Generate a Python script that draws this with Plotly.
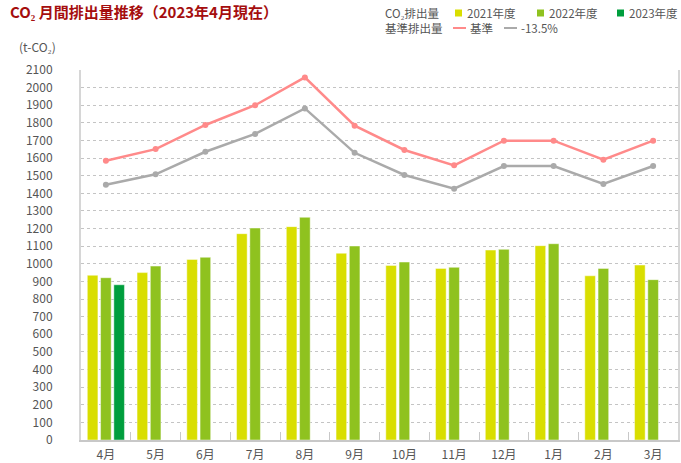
import plotly.graph_objects as go

# Months (fiscal year, April start)
months = ['4月', '5月', '6月', '7月', '8月', '9月', '10月', '11月', '12月', '1月', '2月', '3月']

# CO2 emissions per fiscal year (t-CO2)
fy2021 = [935, 950, 1025, 1171, 1211, 1060, 991, 974, 1078, 1103, 932, 993]
fy2022 = [921, 987, 1037, 1203, 1264, 1101, 1010, 980, 1082, 1114, 974, 910]
fy2023 = [881]

# Reference emissions and the -13.5% target line
baseline = [1585, 1651, 1788, 1900, 2058, 1784, 1646, 1559, 1699, 1699, 1591, 1699]
target = [1449, 1508, 1636, 1737, 1882, 1630, 1504, 1426, 1555, 1555, 1453, 1555]

colors = {
    'fy2021': '#d9de00',
    'fy2022': '#8fc21f',
    'fy2023': '#009e3d',
    'baseline': '#ff8a8a',
    'target': '#aaaaaa',
    'title': '#a50e0e',
    'text': '#555555',
}

font_family = 'Noto Sans CJK JP'

# plot area in pixels (used to place the hand-made legend)
W, H = 681, 463
L, R, T, B = 81, 3, 70, 23


def px_x(px):
    return (px - L) / (W - L - R)


def px_y(py):
    return (H - B - py) / (H - T - B)


fig = go.Figure()

# Bars
bar_series = [('2021年度', fy2021, 'fy2021'),
              ('2022年度', fy2022, 'fy2022'),
              ('2023年度', fy2023, 'fy2023')]
for name, values, key in bar_series:
    fig.add_trace(go.Bar(
        x=months[:len(values)],
        y=values,
        name=name,
        marker={'color': colors[key], 'line': {'color': 'rgba(255,255,255,0.45)', 'width': 1}},
    ))

# Lines
line_series = [('基準', baseline, 'baseline'), ('-13.5%', target, 'target')]
for name, values, key in line_series:
    fig.add_trace(go.Scatter(
        x=months,
        y=values,
        name=name,
        mode='lines+markers',
        line={'color': colors[key], 'width': 2.5},
        marker={'color': colors[key], 'size': 6},
    ))

fig.update_layout(
    width=W,
    height=H,
    margin={'l': L, 'r': R, 't': T, 'b': B, 'autoexpand': False},
    paper_bgcolor='white',
    plot_bgcolor='white',
    showlegend=False,
    barmode='group',
    bargap=0.2,
    bargroupgap=0.2,
    font={'family': font_family, 'size': 12, 'color': colors['text']},
    title={
        'text': '<b>CO₂ 月間排出量推移（2023年4月現在）</b>',
        'x': 10 / W,
        'xanchor': 'left',
        'y': 1 - 13 / H,
        'yanchor': 'middle',
        'font': {'family': font_family, 'size': 15, 'color': colors['title']},
    },
)

fig.update_yaxes(
    range=[0, 2100],
    dtick=100,
    showgrid=True,
    gridcolor='#c4c4c4',
    griddash='dot',
    gridwidth=1,
    zeroline=False,
    showline=True,
    linecolor='#d6d6d6',
    linewidth=2,
    mirror=True,
    ticks='',
    ticklabelstandoff=24,
    automargin=False,
    tickfont={'size': 12, 'color': colors['text']},
)

fig.update_xaxes(
    type='category',
    range=[-0.5, len(months) - 0.5],
    showline=True,
    linecolor='#c8c8c8',
    linewidth=1.5,
    ticks='inside',
    tickson='boundaries',
    ticklen=8,
    tickcolor='#c8c8c8',
    ticklabelstandoff=3,
    automargin=False,
    tickfont={'size': 12, 'color': colors['text']},
)

# Unit label above the y axis
fig.add_annotation(
    text='(t-CO₂)',
    xref='paper', yref='paper',
    x=px_x(17), y=px_y(47),
    xanchor='left', yanchor='middle',
    showarrow=False,
    font={'size': 12, 'color': colors['text']},
)

# Legend, drawn by hand in two rows as in the original
legend_font = {'size': 11.5, 'color': colors['text']}
row1, row2 = 13, 28

fig.add_annotation(text='CO₂排出量', xref='paper', yref='paper',
                   x=px_x(383), y=px_y(row1), xanchor='left', yanchor='middle',
                   showarrow=False, font=legend_font)
fig.add_annotation(text='基準排出量', xref='paper', yref='paper',
                   x=px_x(383), y=px_y(row2), xanchor='left', yanchor='middle',
                   showarrow=False, font=legend_font)

for (name, values, key), sx in zip(bar_series, [455, 537, 617]):
    fig.add_shape(type='rect', xref='paper', yref='paper',
                  x0=px_x(sx), x1=px_x(sx + 7), y0=px_y(row1 - 3.5), y1=px_y(row1 + 3.5),
                  fillcolor=colors[key], line={'width': 0})
    fig.add_annotation(text=name, xref='paper', yref='paper',
                       x=px_x(sx + 10), y=px_y(row1), xanchor='left', yanchor='middle',
                       showarrow=False, font=legend_font)

for (name, values, key), sx in zip(line_series, [453, 504]):
    fig.add_shape(type='line', xref='paper', yref='paper',
                  x0=px_x(sx), x1=px_x(sx + 13), y0=px_y(row2), y1=px_y(row2),
                  line={'color': colors[key], 'width': 2})
    fig.add_annotation(text=name, xref='paper', yref='paper',
                       x=px_x(sx + 15), y=px_y(row2), xanchor='left', yanchor='middle',
                       showarrow=False, font=legend_font)

# Remove the page's default body margin so the figure fills the window
fig.write_html('out.html', config={'displayModeBar': False},
               post_script="document.body.style.margin = '0';")
